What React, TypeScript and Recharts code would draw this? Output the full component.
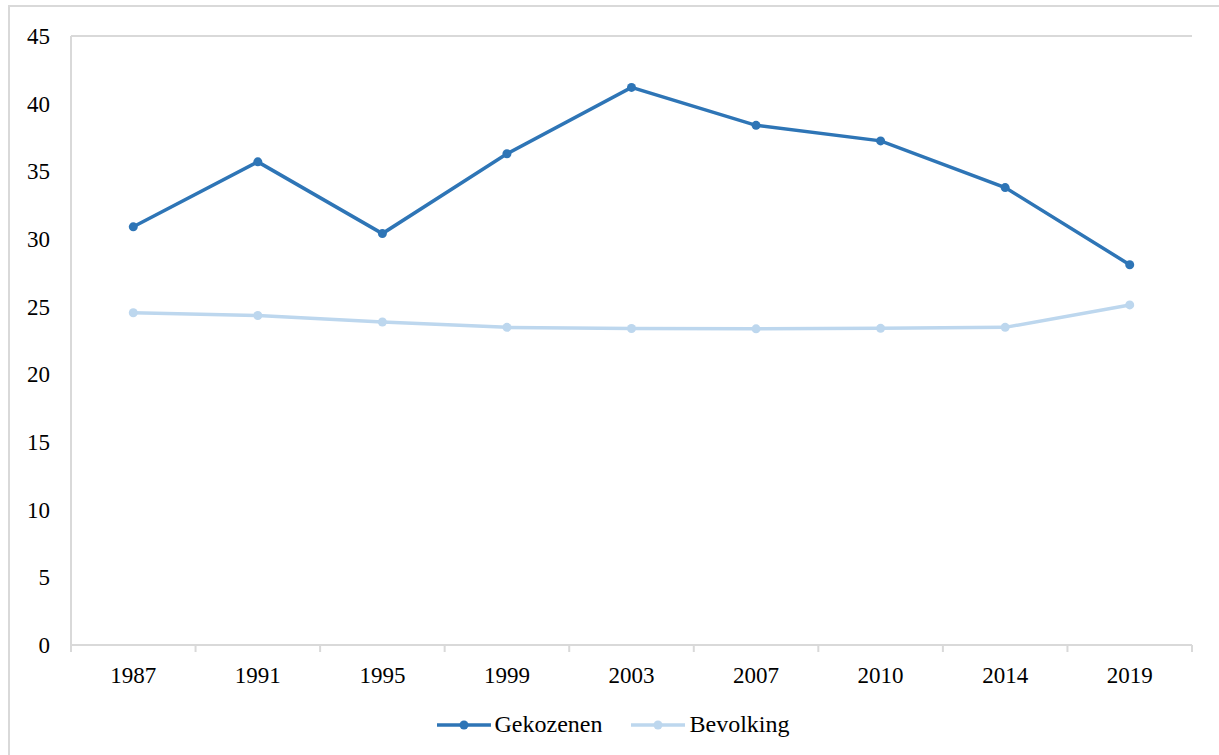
import { CartesianGrid, Line, LineChart, XAxis, YAxis } from "recharts";

const years = ["1987", "1991", "1995", "1999", "2003", "2007", "2010", "2014", "2019"];
const gekozenen = [30.9, 35.7, 30.4, 36.3, 41.2, 38.4, 37.25, 33.8, 28.1];
const bevolking = [24.55, 24.35, 23.87, 23.47, 23.39, 23.36, 23.4, 23.47, 25.13];
const yTicks = [0, 5, 10, 15, 20, 25, 30, 35, 40, 45];

const COL_GEK = "#2E75B6";
const COL_BEV = "#BDD7EE";
const GRID = "#D9D9D9";
const FONT = "'Liberation Serif', 'Times New Roman', serif";

const W = 1219;
const H = 755;
const X_H = 40;
const M = { top: 36, right: 27, left: 0, bottom: 110 - X_H };
const Y_W = 71;
const PLOT_W = W - M.left - M.right - Y_W;
const BAND = PLOT_W / years.length;
const TICK_MARGIN = 22;

const data = years.map((y, i) => ({ year: y, gekozenen: gekozenen[i], bevolking: bevolking[i] }));

function YearTick(props: any) {
  const { x, y, payload, index } = props;
  const axisY = y - TICK_MARGIN;
  const left = x - BAND / 2;
  return (
    <g>
      <line x1={left} x2={left} y1={axisY} y2={axisY + 7} stroke={GRID} strokeWidth={2} />
      {index === years.length - 1 && (
        <line x1={x + BAND / 2} x2={x + BAND / 2} y1={axisY} y2={axisY + 7} stroke={GRID} strokeWidth={2} />
      )}
      <text x={x} y={y} dy="0.71em" textAnchor="middle" fill="#000" fontSize={23} fontFamily={FONT}>
        {payload.value}
      </text>
    </g>
  );
}

function LegendBox() {
  const items = [
    { name: "Gekozenen", color: COL_GEK },
    { name: "Bevolking", color: COL_BEV },
  ];
  return (
    <div style={{ display: "flex", justifyContent: "center", gap: 28, fontFamily: FONT, fontSize: 24, paddingLeft: 6 }}>
      {items.map((it) => (
        <div key={it.name} style={{ display: "flex", alignItems: "center" }}>
          <svg width={56} height={14} style={{ marginRight: 3 }}>
            <line x1={1} x2={55} y1={7} y2={7} stroke={it.color} strokeWidth={3.5} />
            <circle cx={28} cy={7} r={4.5} fill={it.color} />
          </svg>
          <span style={{ color: "#000" }}>{it.name}</span>
        </div>
      ))}
    </div>
  );
}

export default function App() {
  return (
    <div style={{ position: "absolute", left: 0, top: 0, width: W, height: H, overflow: "hidden", background: "#fff" }}>
      <div
        style={{
          position: "absolute",
          left: 8,
          top: 5,
          width: W + 20,
          height: H + 20,
          border: `2px solid ${GRID}`,
          boxSizing: "border-box",
        }}
      />
      <div style={{ position: "absolute", left: 0, top: 0 }}>
        <LineChart width={W} height={H} data={data} margin={M}>
          <CartesianGrid vertical={false} stroke={GRID} strokeWidth={2} />
          <XAxis
            dataKey="year"
            padding={{ left: BAND / 2, right: BAND / 2 }}
            axisLine={{ stroke: GRID, strokeWidth: 2 }}
            tickLine={false}
            tickSize={0}
            tickMargin={TICK_MARGIN}
            tick={<YearTick />}
            interval={0}
            height={X_H}
          />
          <YAxis
            yAxisId="l"
            domain={[0, 45]}
            ticks={yTicks}
            width={Y_W}
            axisLine={{ stroke: GRID, strokeWidth: 2 }}
            tickLine={false}
            tickSize={0}
            tickMargin={21}
            tick={{ fill: "#000", fontSize: 23, fontFamily: FONT }}
          />
          <YAxis
            yAxisId="r"
            orientation="right"
            domain={[0, 45]}
            width={0}
            axisLine={{ stroke: GRID, strokeWidth: 2 }}
            tick={false}
            tickLine={false}
          />
          <Line
            yAxisId="l"
            type="linear"
            dataKey="gekozenen"
            name="Gekozenen"
            stroke={COL_GEK}
            strokeWidth={3.5}
            dot={{ r: 4.5, fill: COL_GEK, stroke: COL_GEK, strokeWidth: 0 }}
            isAnimationActive={false}
          />
          <Line
            yAxisId="l"
            type="linear"
            dataKey="bevolking"
            name="Bevolking"
            stroke={COL_BEV}
            strokeWidth={3.5}
            dot={{ r: 4.5, fill: COL_BEV, stroke: COL_BEV, strokeWidth: 0 }}
            isAnimationActive={false}
          />
        </LineChart>
      </div>
      <div style={{ position: "absolute", left: 0, top: 711, width: W }}>
        <LegendBox />
      </div>
    </div>
  );
}
